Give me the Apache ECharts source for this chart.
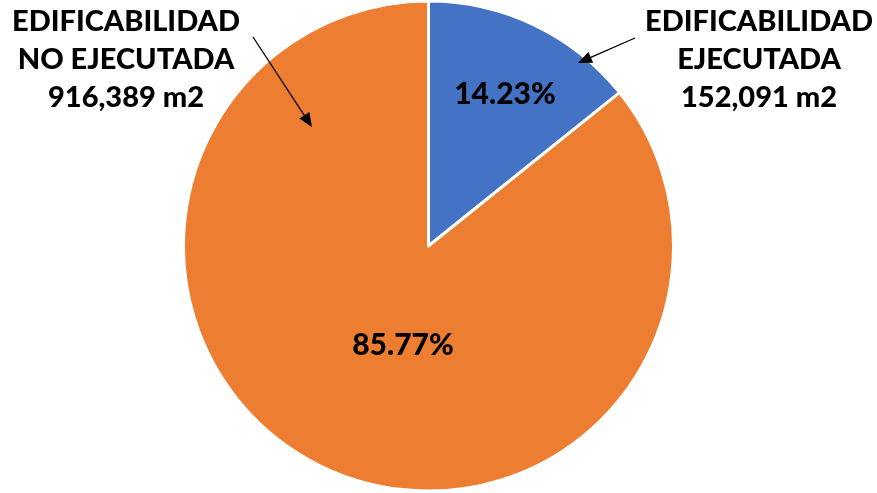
<!DOCTYPE html>
<html><head><meta charset="utf-8">
<script src="https://cdn.jsdelivr.net/npm/echarts@6/dist/echarts.min.js"></script>
<style>html,body{margin:0;padding:0;background:#fff}#c{width:877px;height:493px}</style>
</head><body><div id="c"></div>
<script>
const names = ["EDIFICABILIDAD\nEJECUTADA", "EDIFICABILIDAD\nNO EJECUTADA"];
const values = [152091, 916389];
const colors = ["#4472C4", "#ED7D31"];

const total = values.reduce((a, b) => a + b, 0);
const pct = values.map(v => (v / total * 100).toFixed(2) + "%");
const fmt = v => v.toLocaleString("en-US") + " m2";
const FONT = "Lato";

const chart = echarts.init(document.getElementById("c"));
const txt = (x, y, s, size) => ({
  type: "text", x: x, y: y, z: 100,
  style: { text: s, font: "900 " + size + "px " + FONT, fill: "#000", align: "center", verticalAlign: "middle", lineHeight: 38 }
});
function arrow(x1, y1, x2, y2) {
  const ang = Math.atan2(y2 - y1, x2 - x1), L = 14, W = 6;
  const bx = x2 - L * Math.cos(ang), by = y2 - L * Math.sin(ang);
  const px = -Math.sin(ang) * W, py = Math.cos(ang) * W;
  return [
    { type: "line", z: 100, shape: { x1: x1, y1: y1, x2: bx, y2: by }, style: { stroke: "#000", lineWidth: 1.3 } },
    { type: "polygon", z: 100, shape: { points: [[x2, y2], [bx + px, by + py], [bx - px, by - py]] }, style: { fill: "#000" } }
  ];
}
chart.setOption({
  animation: false,
  series: [{
    type: "pie",
    center: [428.5, 246],
    radius: [0, 245],
    startAngle: 90,
    clockwise: true,
    label: { show: false },
    labelLine: { show: false },
    itemStyle: { borderColor: "#fff", borderWidth: 3 },
    data: values.map((v, i) => ({ value: v, name: names[i], itemStyle: { color: colors[i] } }))
  }],
  graphic: [
    txt(505, 94, pct[0], 30),
    txt(403, 345, pct[1], 30),
    txt(759, 60, names[0] + "\n" + fmt(values[0]), 29),
    txt(126, 60, names[1] + "\n" + fmt(values[1]), 29),
    ...arrow(635, 38, 578, 63),
    ...arrow(253, 37, 312, 127)
  ]
});
</script></body></html>
